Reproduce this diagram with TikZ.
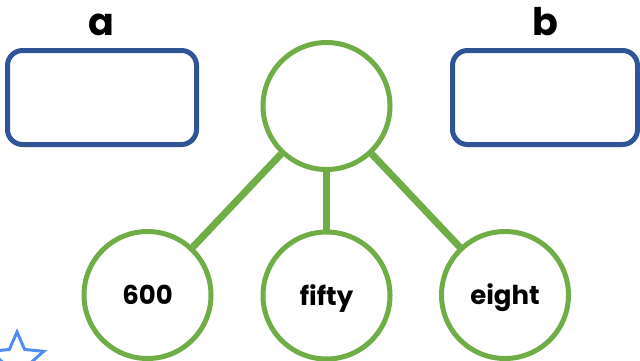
\documentclass[tikz,border=0pt]{standalone}
\usepackage{fontspec}
\setmainfont{Poppins}
\usetikzlibrary{shapes.geometric}
\definecolor{grn}{RGB}{112,173,71}
\definecolor{dblue}{RGB}{47,85,151}
\definecolor{lblue}{RGB}{79,140,245}
\tikzset{
  box/.style={draw=dblue, line width=5bp, rounded corners=15bp},
  bub/.style={circle, draw=grn, line width=5bp, minimum size=127bp, inner sep=0pt,
    font=\fontsize{26bp}{28bp}\selectfont\bfseries, text height=19bp, text depth=0pt},
  link/.style={draw=grn, line width=7bp},
  lab/.style={font=\fontsize{38bp}{40bp}\selectfont\bfseries, anchor=base, inner sep=0pt}
}
\begin{document}
\begin{tikzpicture}[x=1bp,y=-1bp]
\useasboundingbox (0,0) rectangle (640,360);
\clip (0,0) rectangle (640,360);
\fill[white] (0,0) rectangle (640,360);
\draw[box] (7.5,50.5) rectangle (196.5,144.5);
\draw[box] (452.5,50.5) rectangle (637.5,144.5);
\node[lab] (la) at (101,35) {a};
\node[lab] (lb) at (545,35) {b};
\node[bub] (top) at (326.5,106) {};
\node[bub] (n1) at (147.5,295) {600};
\node[bub] (n2) at (326.5,295.5) {fifty};
\node[bub] (n3) at (505,295) {eight};
\draw[link] (top) -- (n1);
\draw[link] (top) -- (n2);
\draw[link] (top) -- (n3);
\node[star, star points=5, star point ratio=2.15, minimum size=56bp, inner sep=0pt,
  draw=lblue, line width=3bp] (st) at (17,360) {};
\end{tikzpicture}
\end{document}
